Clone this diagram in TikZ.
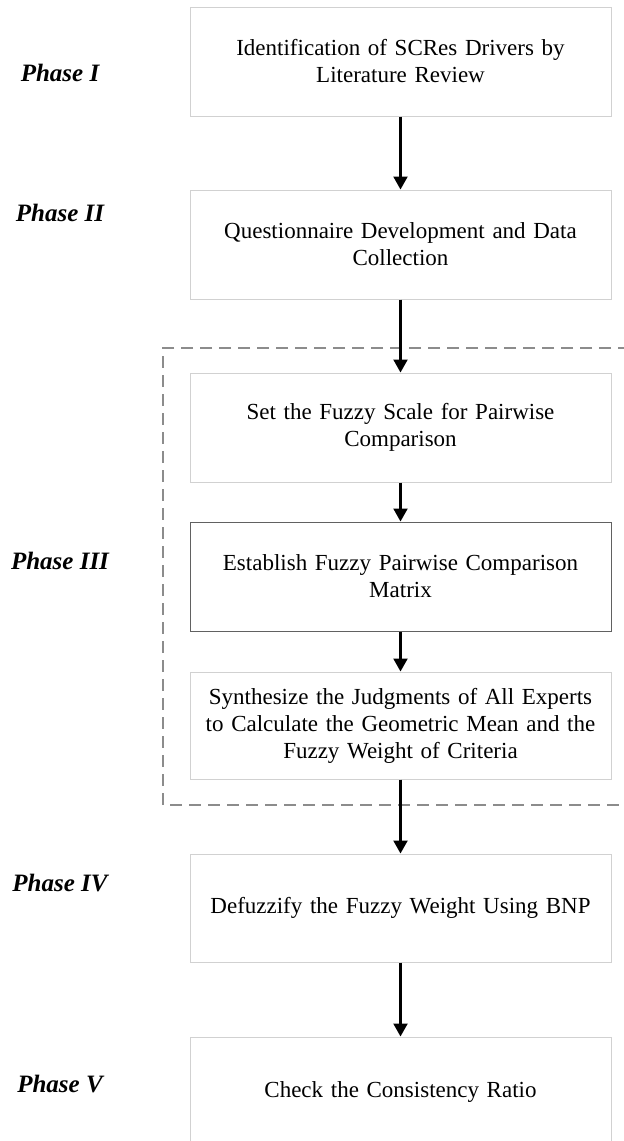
\documentclass[tikz,border=0pt]{standalone}
\usepackage{fontspec}
\setmainfont{Liberation Serif}
\usetikzlibrary{arrows.meta}
\begin{document}
\begin{tikzpicture}[x=1pt,y=-1pt,
  stepbox/.style={draw=black!18, line width=1pt, minimum width=421pt, text width=400pt,
    align=center, inner sep=0pt, font=\fontsize{23}{27}\selectfont},
  darkbox/.style={stepbox, draw=black!62},
  phase/.style={font=\fontsize{25}{29}\selectfont\bfseries\itshape, anchor=center},
  arr/.style={line width=2.2pt, -{Triangle[width=14pt,length=13pt]}},
  group/.style={draw=black!45, line width=1.5pt, dash pattern=on 12pt off 7pt}]
\path[use as bounding box] (0,0) rectangle (624,1141);
\clip (0,0) rectangle (624,1141);
\fill[white] (0,0) rectangle (624,1141);
\draw[group] (630,348) -- (163,348) -- (163,805) -- (630,805);
\node[stepbox, minimum height=109pt] (b1) at (400.5,61.5) {Identification of SCRes Drivers by\\Literature Review};
\node[stepbox, minimum height=109pt] (b2) at (400.5,244.5) {Questionnaire Development and Data\\Collection};
\node[stepbox, minimum height=109pt] (b3) at (400.5,427.5) {Set the Fuzzy Scale for Pairwise\\Comparison};
\node[darkbox, minimum height=109pt] (b4) at (400.5,576.5) {Establish Fuzzy Pairwise Comparison\\Matrix};
\node[stepbox, minimum height=107pt] (b5) at (400.5,725.5) {Synthesize the Judgments of All Experts\\to Calculate the Geometric Mean and the\\Fuzzy Weight of Criteria};
\node[stepbox, minimum height=108pt] (b6) at (400.5,908) {Defuzzify the Fuzzy Weight Using BNP};
\node[stepbox, minimum height=110pt] (b7) at (400.5,1092) {Check the Consistency Ratio};
\node[phase] (p1) at (60,73) {Phase I};
\node[phase] (p2) at (60,213) {Phase II};
\node[phase] (p3) at (60,561) {Phase III};
\node[phase] (p4) at (60,883) {Phase IV};
\node[phase] (p5) at (60,1084) {Phase V};
\draw[arr] (b1) -- (b2);
\draw[arr] (b2) -- (b3);
\draw[arr] (b3) -- (b4);
\draw[arr] (b4) -- (b5);
\draw[arr] (b5) -- (b6);
\draw[arr] (b6) -- (b7);
\end{tikzpicture}
\end{document}
